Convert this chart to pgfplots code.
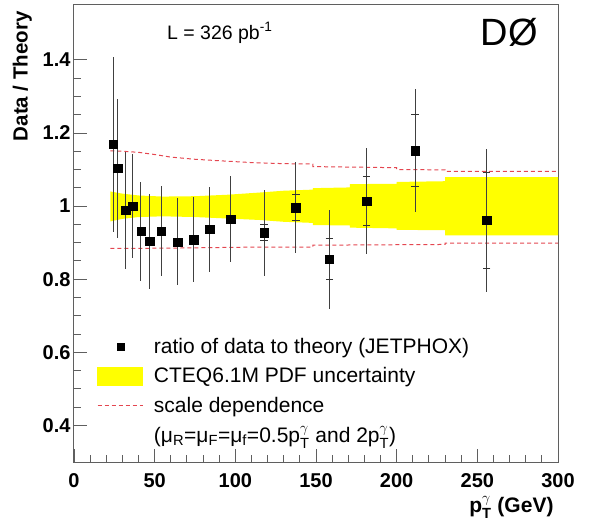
\documentclass[border=0pt]{standalone}
\usepackage{fontspec}
\setmainfont{Liberation Sans}
\usepackage{amsmath}
\usepackage{pgfplots}
\usepackage{pgfplotstable}
\pgfplotsset{compat=1.18}
\definecolor{dashred}{RGB}{228,70,80}
\definecolor{bandyellow}{RGB}{255,255,0}
\definecolor{framegray}{RGB}{95,95,95}
\newcommand\ptg{$\text{p}^{\gamma}_{\text{T}}$}

\pgfplotstableread{
x     y      tot
24.4  1.169  0.240
27.1  1.104  0.190
32.0  0.988  0.160
36.3  1.000  0.143
41.5  0.931  0.135
46.9  0.904  0.130
54.1  0.931  0.123
64.3  0.902  0.119
74.2  0.908  0.117
84.1  0.936  0.115
97.1  0.964  0.117
117.8 0.927  0.118
137.5 0.996  0.124
158.3 0.854  0.135
181.4 1.014  0.145
211.4 1.152  0.168
255.8 0.961  0.196
}\datatab

\pgfplotstableread{
x     y      stat
117.8 0.927  0.022
137.5 0.996  0.035
158.3 0.854  0.056
181.4 1.014  0.066
211.4 1.152  0.098
255.8 0.961  0.132
}\stattab

\begin{document}
\begin{tikzpicture}
\useasboundingbox (-74pt,-63pt) rectangle (520pt,462pt);
\begin{axis}[
  at={(0pt,0pt)}, anchor=south west,
  scale only axis, width=484pt, height=457pt,
  xmin=0, xmax=300, ymin=0.3, ymax=1.55,
  xtick={0,50,100,150,200,250,300},
  ytick={0.4,0.6,0.8,1,1.2,1.4},
  minor x tick num=4, minor y tick num=3,
  xtick pos=bottom, ytick pos=left,
  tick align=inside,
  major tick length=13pt, minor tick length=7pt,
  axis line style={framegray, line width=1pt},
  every tick/.style={framegray, line width=0.9pt},
  /pgf/number format/assume math mode=true,
  tick label style={font=\bfseries\fontsize{20}{24}\selectfont, black},
  xticklabel style={yshift=-8pt},
  xlabel={\bfseries\ptg{} (GeV)},
  ylabel={\bfseries Data / Theory},
  xlabel style={font=\fontsize{21}{25}\selectfont, at={(axis description cs:0.998,-0.100)}, anchor=east},
  ylabel style={font=\fontsize{20.5}{25}\selectfont, at={(axis description cs:-0.107,0.994)}, anchor=east},
  clip=false,
  legend style={draw=none, fill=none, at={(axis description cs:0.0475,0.275)}, anchor=north west,
    font=\fontsize{21}{25}\selectfont, row sep=8.5pt, column sep=9pt, inner sep=0pt},
  legend cell align=left,
]
% PDF uncertainty band
\addplot[fill=bandyellow, draw=none, forget plot] coordinates {
 (22.5,1.040) (30,1.034) (40,1.029) (55,1.026) (75,1.027) (95,1.031) (115,1.037) (130,1.042) (148,1.045)
 (148,1.049) (171,1.051) (171,1.060) (200,1.061) (200,1.066) (230,1.068) (230,1.079) (300,1.079)
 (300,0.920) (230,0.920) (230,0.934) (200,0.935) (200,0.939) (171,0.941) (171,0.947) (148,0.948)
 (148,0.954) (130,0.957) (115,0.962) (95,0.966) (75,0.970) (55,0.972) (40,0.970) (30,0.965) (22.5,0.958)
} -- cycle;
% scale dependence
\addplot[dashred, dash pattern=on 4pt off 3pt, line width=1pt, forget plot] coordinates {
 (22.5,1.151) (30,1.150) (40,1.147) (50,1.141) (60,1.134) (75,1.128) (90,1.124) (110,1.119) (130,1.116) (148,1.115)
 (148,1.108) (200,1.105) (200,1.100) (230,1.099) (230,1.095) (300,1.095)};
\addplot[dashred, dash pattern=on 4pt off 3pt, line width=1pt, forget plot] coordinates {
 (22.5,0.884) (60,0.885) (115,0.888) (148,0.888) (148,0.893) (230,0.895) (230,0.899) (300,0.899)};
% total errors
\addplot[draw=none, mark=none, forget plot,
  error bars/.cd, y dir=both, y explicit, error mark=none,
  error bar style={line width=1pt, black!75}]
  table[x=x, y=y, y error=tot] {\datatab};
% statistical errors
\addplot[draw=none, mark=none, forget plot,
  error bars/.cd, y dir=both, y explicit, error mark=-,
  error mark options={rotate=90, mark size=3.8pt, line width=1pt, black!80},
  error bar style={line width=1pt, black!75}]
  table[x=x, y=y, y error=stat] {\stattab};
% data
\addplot[only marks, mark=square*, mark size=4.2pt, black, forget plot]
  table[x=x, y=y] {\datatab};

\addlegendimage{legend image code/.code={\fill[black] (19.5pt,-3.6pt) rectangle (26.7pt,3.6pt);}}
\addlegendentry{ratio of data to theory (JETPHOX)}
\addlegendimage{legend image code/.code={\fill[bandyellow] (0pt,-9pt) rectangle (45pt,9pt);}}
\addlegendentry{CTEQ6.1M PDF uncertainty}
\addlegendimage{legend image code/.code={\draw[dashred, dash pattern=on 4pt off 3pt, line width=0.8pt] (0pt,0pt) -- (45pt,0pt);}}
\addlegendentry{scale dependence}
\addlegendimage{empty legend}
\addlegendentry{(μ\textsubscript{R}=μ\textsubscript{F}=μ\textsubscript{f}=0.5\ptg{} and 2\ptg)}

\node[anchor=west, inner sep=0pt, font=\fontsize{19.5}{23}\selectfont] at (axis description cs:0.192,0.939) {L = 326 pb\textsuperscript{-1}};
\node[anchor=east, inner sep=0pt, font=\fontsize{38}{44}\selectfont] at (axis description cs:0.959,0.939) {DØ};
\end{axis}
\end{tikzpicture}
\end{document}
